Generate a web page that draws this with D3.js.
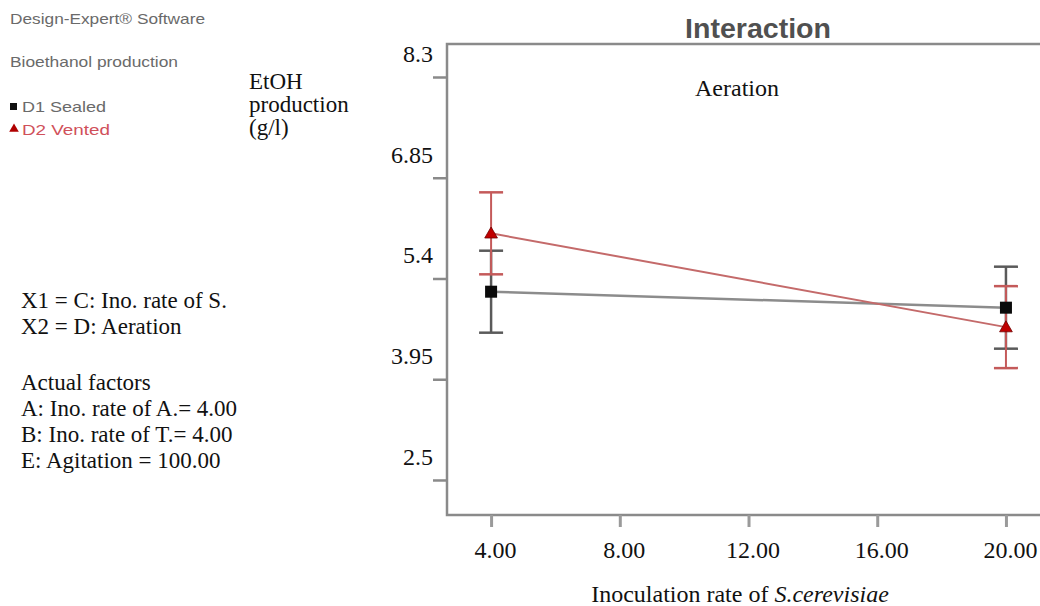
<!DOCTYPE html>
<html><head><meta charset="utf-8">
<script src="https://cdn.jsdelivr.net/npm/d3@7"></script>
<style>body{margin:0;background:#fff;overflow:hidden}svg{display:block}</style>
</head><body>
<script>
const xTickValues = [4, 8, 12, 16, 20];
const xTickLabels = ["4.00", "8.00", "12.00", "16.00", "20.00"];
const yTickValues = [2.5, 3.95, 5.4, 6.85, 8.3];
const yTickLabels = ["2.5", "3.95", "5.4", "6.85", "8.3"];
const inoculation = [4, 20];
const sealed = [5.21, 4.98];
const sealedErr = [0.59, 0.59];
const vented = [6.05, 4.70];
const ventedErr = [0.59, 0.59];
const seriesNames = ["D1 Sealed", "D2 Vented"];
const infoLines = ["X1 = C: Ino. rate of S.", "X2 = D: Aeration"];
const factorLines = ["Actual factors", "A: Ino. rate of A.= 4.00", "B: Ino. rate of T.= 4.00", "E: Agitation = 100.00"];

const W = 1040, H = 606;
const svg = d3.select("body").append("svg").attr("width", W).attr("height", H);
const serif = "'Liberation Serif','Times New Roman',serif";
const sans = "'Liberation Sans',Arial,sans-serif";

const x = d3.scaleLinear().domain([2.63, 21.4]).range([447, 1051]);
const y = d3.scaleLinear().domain([1.996, 8.775]).range([515, 44]);

// frame
svg.append("rect").attr("x", x.range()[0]).attr("y", y.range()[1])
  .attr("width", x.range()[1] - x.range()[0]).attr("height", y.range()[0] - y.range()[1])
  .attr("fill", "none").attr("stroke", "#8a8a8a").attr("stroke-width", 2.5);

// y axis
const yAxis = d3.axisLeft(y).tickValues(yTickValues).tickSize(14).tickFormat(() => "");
const gy = svg.append("g").attr("transform", `translate(${x.range()[0]},0)`).call(yAxis);
gy.select(".domain").remove();
gy.selectAll(".tick line").attr("stroke", "#8a8a8a").attr("stroke-width", 2.5);
gy.selectAll(".tick").append("text")
  .attr("x", -14).attr("y", -24).attr("dy", "0.35em")
  .attr("text-anchor", "end").attr("fill", "#111")
  .style("font-family", serif).style("font-size", "24px")
  .text((d, i) => yTickLabels[i]);

// x axis
const xAxis = d3.axisBottom(x).tickValues(xTickValues).tickSize(12).tickFormat(() => "");
const gx = svg.append("g").attr("transform", `translate(0,${y.range()[0]})`).call(xAxis);
gx.select(".domain").remove();
gx.selectAll(".tick line").attr("stroke", "#9a9a9a").attr("stroke-width", 3);
gx.selectAll(".tick").append("text")
  .attr("x", 4).attr("y", 35).attr("dy", "0.35em")
  .attr("text-anchor", "middle").attr("fill", "#111")
  .style("font-family", serif).style("font-size", "24px")
  .text((d, i) => xTickLabels[i]);

// title & labels
svg.append("text").attr("x", 758).attr("y", 38).attr("text-anchor", "middle")
  .attr("fill", "#505050").style("font-family", sans).style("font-size", "27px").style("font-weight", "bold")
  .attr("textLength", 146).attr("lengthAdjust", "spacingAndGlyphs").text("Interaction");
svg.append("text").attr("x", 737).attr("y", 96).attr("text-anchor", "middle")
  .attr("fill", "#111").style("font-family", serif).style("font-size", "24px").text("Aeration");

const xl = svg.append("text").attr("x", 740).attr("y", 602).attr("text-anchor", "middle")
  .attr("fill", "#111").style("font-family", serif).style("font-size", "24px");
xl.append("tspan").text("Inoculation rate of ");
xl.append("tspan").style("font-style", "italic").text("S.cerevisiae");

// y label
["EtOH", "production", "(g/l)"].forEach((t, i) => {
  svg.append("text").attr("x", 249).attr("y", 89 + i * 23).attr("fill", "#111")
    .style("font-family", serif).style("font-size", "23px").text(t);
});

// left header
svg.append("text").attr("x", 10).attr("y", 24).attr("fill", "#6a6a6a")
  .style("font-family", sans).style("font-size", "15px")
  .attr("textLength", 195).attr("lengthAdjust", "spacingAndGlyphs").text("Design-Expert® Software");
svg.append("text").attr("x", 10).attr("y", 67).attr("fill", "#6a6a6a")
  .style("font-family", sans).style("font-size", "15px")
  .attr("textLength", 168).attr("lengthAdjust", "spacingAndGlyphs").text("Bioethanol production");

// legend
svg.append("rect").attr("x", 10).attr("y", 103).attr("width", 7).attr("height", 7).attr("fill", "#111");
svg.append("text").attr("x", 22).attr("y", 112).attr("fill", "#6a6a6a")
  .style("font-family", sans).style("font-size", "15px")
  .attr("textLength", 84).attr("lengthAdjust", "spacingAndGlyphs").text(seriesNames[0]);
svg.append("path").attr("d", d3.symbol(d3.symbolTriangle, 40)()).attr("transform", "translate(14,129)")
  .attr("fill", "#b00000");
svg.append("text").attr("x", 22).attr("y", 135).attr("fill", "#d0505a")
  .style("font-family", sans).style("font-size", "15px")
  .attr("textLength", 88).attr("lengthAdjust", "spacingAndGlyphs").text(seriesNames[1]);

// info text
infoLines.forEach((t, i) => {
  svg.append("text").attr("x", 21).attr("y", 308 + i * 26).attr("fill", "#111")
    .style("font-family", serif).style("font-size", "23px").text(t);
});
factorLines.forEach((t, i) => {
  svg.append("text").attr("x", 21).attr("y", 390 + i * 26).attr("fill", "#111")
    .style("font-family", serif).style("font-size", "23px").text(t);
});

// series
const series = [
  {vals: sealed, err: sealedErr, line: "#8c8c8c", lw: 2.5, ebar: "#5a5a5a", ew: 2.5, cap: 12},
  {vals: vented, err: ventedErr, line: "#c46a6a", lw: 2, ebar: "#c45a5a", ew: 2, cap: 12}
];
const line = d3.line().x(d => x(d[0])).y(d => y(d[1]));
series.forEach((s, si) => {
  const pts = inoculation.map((v, i) => [v, s.vals[i], s.err[i]]);
  const g = svg.append("g");
  pts.forEach(p => {
    const cx = x(p[0]);
    g.append("line").attr("x1", cx).attr("x2", cx).attr("y1", y(p[1] + p[2])).attr("y2", y(p[1] - p[2]))
      .attr("stroke", s.ebar).attr("stroke-width", s.ew);
    [p[1] + p[2], p[1] - p[2]].forEach(v => {
      g.append("line").attr("x1", cx - s.cap).attr("x2", cx + s.cap).attr("y1", y(v)).attr("y2", y(v))
        .attr("stroke", s.ebar).attr("stroke-width", 2.5);
    });
  });
  g.append("path").datum(pts).attr("d", line).attr("fill", "none")
    .attr("stroke", s.line).attr("stroke-width", s.lw);
});
// markers
inoculation.forEach((v, i) => {
  svg.append("rect").attr("x", x(v) - 6).attr("y", y(sealed[i]) - 6).attr("width", 12).attr("height", 12)
    .attr("fill", "#0a0a0a");
  svg.append("path").attr("d", d3.symbol(d3.symbolTriangle, 70)())
    .attr("transform", `translate(${x(v)},${y(vented[i]) + 1})`)
    .attr("fill", "#c00000").attr("stroke", "#700000").attr("stroke-width", 0.8);
});
</script>
</body></html>
